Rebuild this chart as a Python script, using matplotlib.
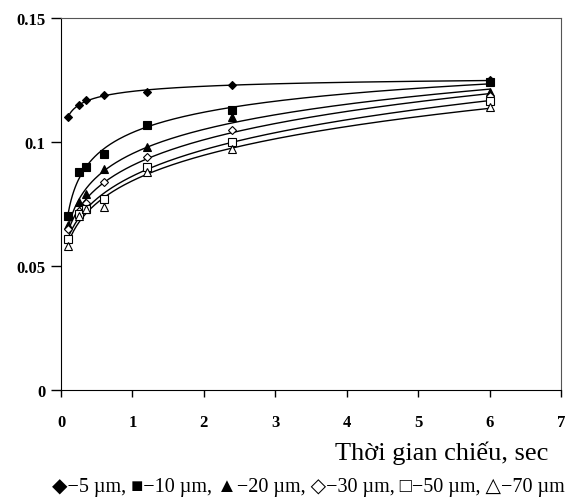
import matplotlib
matplotlib.use("Agg")
import matplotlib.pyplot as plt
import numpy as np

# Exposure time (s) and measured values for each particle size
t = [0.1, 0.25, 0.35, 0.6, 1.2, 2.4, 6.0]
y_5 = [0.110, 0.115, 0.117, 0.119, 0.120, 0.123, 0.125]
y_10 = [0.070, 0.088, 0.090, 0.095, 0.107, 0.113, 0.124]
y_20 = [0.0665, 0.076, 0.079, 0.089, 0.098, 0.110, 0.120]
y_30 = [0.065, 0.072, 0.0755, 0.084, 0.094, 0.105, 0.1186]
y_50 = [0.061, 0.071, 0.073, 0.077, 0.090, 0.100, 0.1166]
y_70 = [0.058, 0.070, 0.073, 0.0737, 0.088, 0.097, 0.114]

series = [
    (y_5, 'D', 'black', 4.5),
    (y_10, 's', 'black', 5.5),
    (y_20, '^', 'black', 5.5),
    (y_30, 'D', 'white', 4.5),
    (y_50, 's', 'white', 5.5),
    (y_70, '^', 'white', 5.5),
]

legend_text = "◆−5 µm, ■−10 µm, ▲−20 µm, ◇−30 µm, □−50 µm, △−70 µm"

fig = plt.figure(figsize=(5.71, 5.02), dpi=100)
ax = fig.add_axes([61 / 571, 1 - 391 / 502, 500 / 571, 372 / 502])

x = np.array(t)
xs = np.linspace(x.min(), x.max(), 300)
for ys, m, fc, ms in series:
    # trend line: quadratic in log(t)
    coef = np.polyfit(np.log(x), ys, 2)
    ax.plot(xs, np.polyval(coef, np.log(xs)), color='black', lw=1.0, zorder=2)
    ax.plot(x, ys, linestyle='none', marker=m, markerfacecolor=fc,
            markeredgecolor='black', markeredgewidth=0.8, markersize=ms, zorder=3)

ax.set_xlim(0, 7)
ax.set_ylim(0, 0.15)
ax.set_xticks(range(0, 8))
ax.set_yticks([0, 0.05, 0.1, 0.15])
ax.set_yticklabels(['0', '0.05', '0.1', '0.15'])
ax.tick_params(direction='out', width=1, labelsize=12)
ax.tick_params(axis='x', length=5, pad=12)
ax.tick_params(axis='y', length=7, pad=4)
for lab in ax.get_xticklabels() + ax.get_yticklabels():
    lab.set_fontfamily('Liberation Serif')
    lab.set_fontweight('bold')
for side in ['left', 'bottom']:
    ax.spines[side].set_color('black')
for side in ['top', 'right']:
    ax.spines[side].set_color('#555555')

fig.text(548 / 571, 1 - 453 / 502, "Thời gian chiếu, sec", ha='right', va='center',
         fontsize=19, family='Liberation Serif')
fig.text(308 / 571, 1 - 488 / 502, legend_text, ha='center', va='center',
         fontsize=14.5, family=['Liberation Serif', 'DejaVu Sans'])

fig.savefig('out.png', dpi=100)
